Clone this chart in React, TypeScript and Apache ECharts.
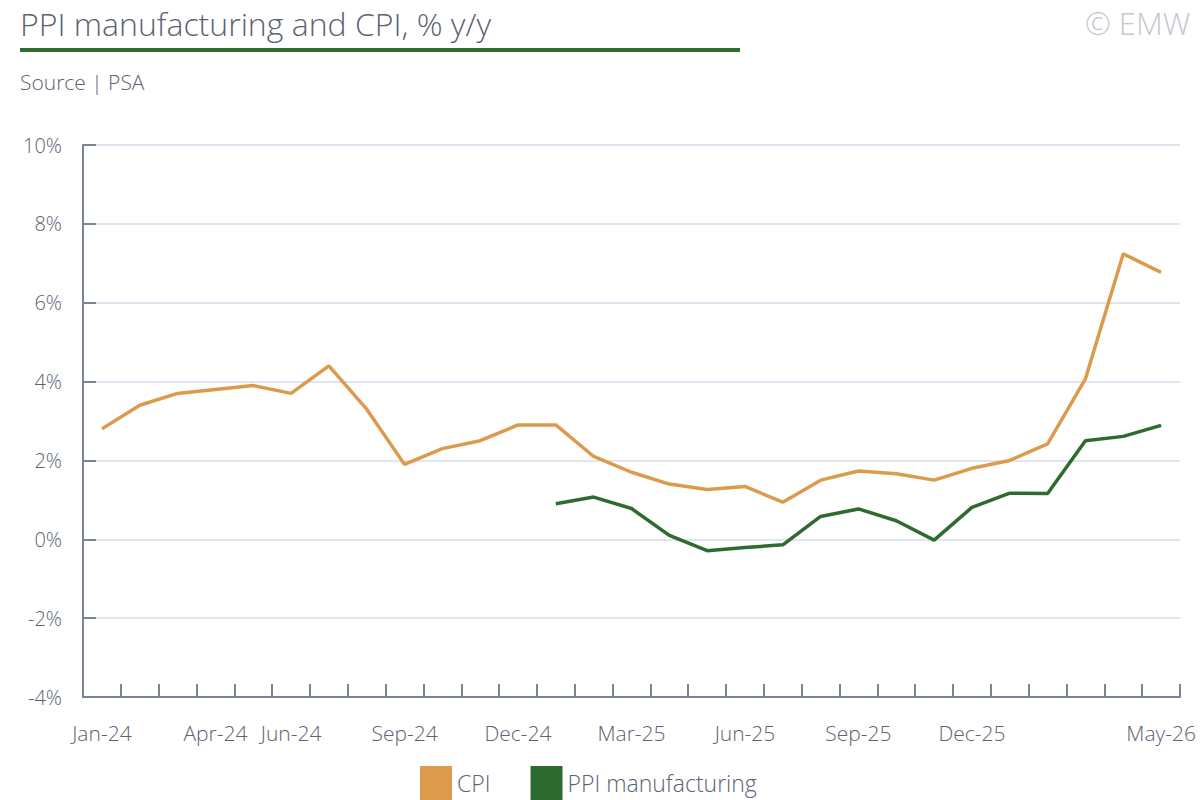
import React, { useEffect, useRef } from 'react';
import * as echarts from 'echarts';

const months = [
  'Jan-24', 'Feb-24', 'Mar-24', 'Apr-24', 'May-24', 'Jun-24', 'Jul-24', 'Aug-24', 'Sep-24', 'Oct-24',
  'Nov-24', 'Dec-24', 'Jan-25', 'Feb-25', 'Mar-25', 'Apr-25', 'May-25', 'Jun-25', 'Jul-25', 'Aug-25',
  'Sep-25', 'Oct-25', 'Nov-25', 'Dec-25', 'Jan-26', 'Feb-26', 'Mar-26', 'Apr-26', 'May-26'
];

// months that carry a label on the x axis
const labelledMonths = ['Jan-24', 'Apr-24', 'Jun-24', 'Sep-24', 'Dec-24', 'Mar-25', 'Jun-25', 'Sep-25', 'Dec-25', 'May-26'];

const cpi = [
  2.8, 3.4, 3.7, 3.8, 3.9, 3.7, 4.4, 3.3, 1.9, 2.3,
  2.5, 2.9, 2.9, 2.1, 1.7, 1.4, 1.26, 1.34, 0.94, 1.5,
  1.73, 1.66, 1.5, 1.8, 2.0, 2.42, 4.07, 7.24, 6.77
];

const ppiManufacturing = [
  null, null, null, null, null, null, null, null, null, null,
  null, null, 0.9, 1.07, 0.78, 0.1, -0.29, -0.21, -0.14, 0.58,
  0.77, 0.47, -0.02, 0.81, 1.17, 1.16, 2.5, 2.61, 2.89
];

const yTicks = { min: -4, max: 10, interval: 2 };

const FONT = '"Open Sans", Lato, sans-serif';
const TEXT = '#5d6274';
const AXIS = '#7b8497';
const CPI_COLOR = '#dc9b4c';
const PPI_COLOR = '#2f6b2e';

export default function App() {
  const chartRef = useRef<HTMLDivElement>(null);

  useEffect(() => {
    if (!chartRef.current) return;
    document.body.style.margin = '0';

    const chart = echarts.init(chartRef.current, null, { renderer: 'svg' });

    const option: echarts.EChartsOption = {
      animation: false,
      backgroundColor: '#ffffff',
      textStyle: { fontFamily: FONT },
      graphic: [
        {
          type: 'text',
          left: 20,
          top: 7,
          style: { text: 'PPI manufacturing and CPI, % y/y', fontSize: 32, fontWeight: 300, fill: TEXT, fontFamily: FONT }
        },
        {
          type: 'rect',
          left: 20,
          top: 48,
          shape: { width: 720, height: 4 },
          style: { fill: PPI_COLOR }
        },
        {
          type: 'text',
          left: 20,
          top: 71,
          style: { text: 'Source | PSA', fontSize: 21, fontWeight: 300, fill: TEXT, fontFamily: FONT }
        },
        {
          type: 'text',
          left: 1085,
          top: 7,
          style: { text: '© EMW', fontSize: 31, fontWeight: 300, fill: '#c4c7cf', fontFamily: FONT }
        }
      ],
      legend: {
        data: ['CPI', 'PPI manufacturing'],
        left: 420,
        top: 766,
        padding: 0,
        icon: 'rect',
        itemWidth: 32,
        itemHeight: 34,
        itemGap: 40,
        textStyle: { fontSize: 23, fontWeight: 300, color: TEXT, fontFamily: FONT, lineHeight: 26 }
      },
      grid: {
        left: 83,
        right: 20,
        top: 145,
        bottom: 103
      },
      xAxis: {
        type: 'category',
        data: months,
        boundaryGap: true,
        axisLine: { onZero: false, lineStyle: { color: AXIS, width: 2 } },
        axisTick: {
          show: true,
          inside: true,
          length: 13,
          interval: 0,
          lineStyle: { color: AXIS, width: 2 }
        },
        axisLabel: {
          interval: (index: number, value: string) => labelledMonths.includes(value),
          color: TEXT,
          fontSize: 21,
          fontWeight: 300,
          margin: 25,
          fontFamily: FONT
        },
        splitLine: { show: false }
      },
      yAxis: {
        type: 'value',
        min: yTicks.min,
        max: yTicks.max,
        interval: yTicks.interval,
        axisLine: { show: true, lineStyle: { color: AXIS, width: 2 } },
        axisTick: { show: true, inside: true, length: 13, lineStyle: { color: AXIS, width: 2 } },
        axisLabel: {
          formatter: '{value}%',
          color: TEXT,
          fontSize: 20,
          fontWeight: 300,
          margin: 21,
          fontFamily: FONT
        },
        splitLine: { show: true, lineStyle: { color: '#dde6f1', width: 2 } }
      },
      series: [
        {
          name: 'CPI',
          type: 'line',
          data: cpi,
          symbol: 'none',
          itemStyle: { color: CPI_COLOR },
          lineStyle: { color: CPI_COLOR, width: 3.5 }
        },
        {
          name: 'PPI manufacturing',
          type: 'line',
          data: ppiManufacturing,
          symbol: 'none',
          itemStyle: { color: PPI_COLOR },
          lineStyle: { color: PPI_COLOR, width: 3.5 }
        }
      ]
    };

    chart.setOption(option);

    return () => {
      chart.dispose();
    };
  }, []);

  return <div ref={chartRef} style={{ width: '1200px', height: '800px' }} />;
}
